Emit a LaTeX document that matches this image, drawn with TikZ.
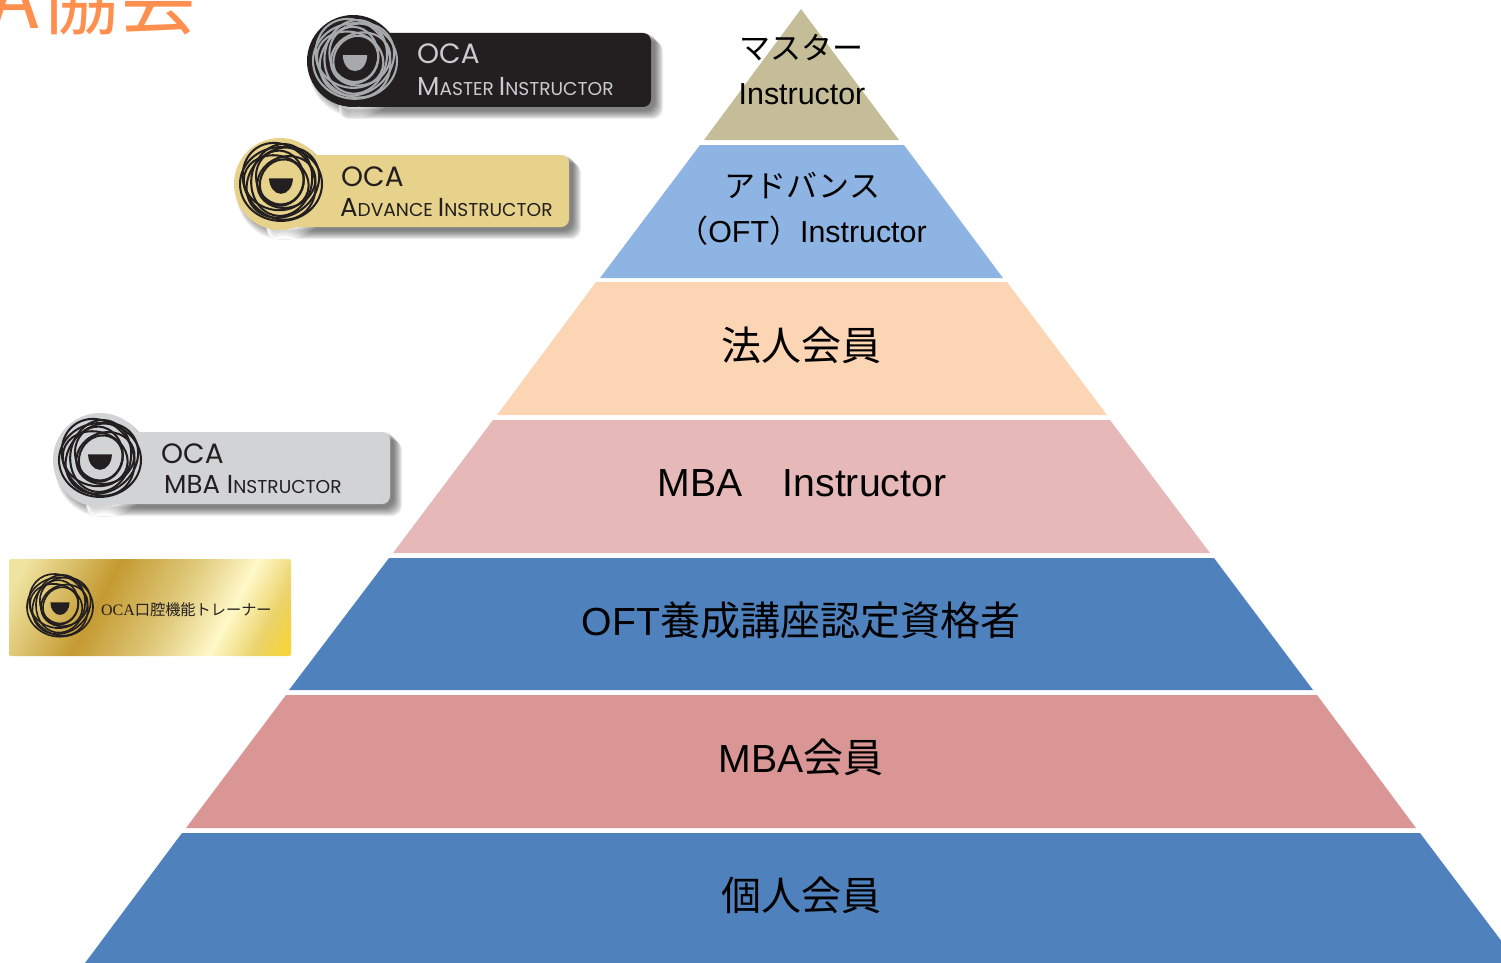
\documentclass[tikz,border=0pt]{standalone}
\usepackage{fontspec}
\setmainfont{Noto Sans CJK JP}
\newfontfamily\badgefont{Poppins}
\newfontfamily\lat[Scale=.98]{Liberation Sans}
\newfontfamily\goldlat[Scale=1.05]{Liberation Serif}
\definecolor{tierTan}{HTML}{C4BD97}
\definecolor{tierSky}{HTML}{8EB4E3}
\definecolor{tierPeach}{HTML}{FCD5B5}
\definecolor{tierPink}{HTML}{E6B9B8}
\definecolor{tierBlue}{HTML}{4F81BD}
\definecolor{tierRose}{HTML}{D99694}
\definecolor{titleOrange}{HTML}{FF8F4F}
\definecolor{badgeBlack}{HTML}{231F20}
\definecolor{badgeCream}{HTML}{E6D28B}
\definecolor{badgeGray}{HTML}{D1D3D4}
\definecolor{ringGray}{HTML}{A7A9AC}
\definecolor{goldA}{HTML}{EFE3A0}
\definecolor{goldC}{HTML}{C49A32}
\definecolor{goldD}{HTML}{E0CA7C}
\definecolor{goldE}{HTML}{FFF8C8}
\definecolor{goldF}{HTML}{EBD36A}
\definecolor{goldG}{HTML}{F5D43C}
\pgfdeclarehorizontalshading{goldfoil}{100bp}{
	color(0bp)=(goldA);
	color(20bp)=(goldA);
	color(39bp)=(goldC);
	color(55bp)=(goldD);
	color(67bp)=(goldE);
	color(76bp)=(goldF);
	color(82bp)=(goldG);
	color(100bp)=(goldG)}
\tikzset{
	tiertext/.style={font=\fontsize{40}{48}\selectfont, text=black, inner sep=0pt},
	smalltier/.style={font=\fontsize{31}{37}\selectfont, text=black, inner sep=0pt},
	oca/.style={font=\badgefont\fontsize{28}{34}\selectfont, anchor=west, inner sep=0pt},
	rank/.style={font=\badgefont\fontsize{18.6}{24}\selectfont, anchor=west, inner sep=0pt}
}
% x, y, radius, ring colour, moon colour
\newcommand{\ocalogo}[5]{
	\begin{scope}[shift={(#1,#2)}]
		\foreach \a/\d/\p/\q in {0/.00/1.00/.90, 40/.06/.94/.80, 80/.10/.88/.74, 125/.08/.98/.84, 165/.12/.80/.66, 20/.14/.72/.62, 100/.16/.66/.58, 60/.04/.58/.52}
			\draw[#4, line width=#3*.05pt, rotate=\a] (#3*\d,0) ellipse [x radius=#3*\p, y radius=#3*\q];
		\fill[#5] (-#3*.29,-#3*.14) -- (#3*.29,-#3*.14) arc[start angle=0, end angle=-180, x radius=#3*.29, y radius=-#3*.38] -- cycle;
	\end{scope}
}
% disc x, disc y, disc radius, body top, body bottom, body right, colour
\newcommand{\ocabadge}[7]{
	\foreach \s in {0,1,...,8}
		\fill[black, opacity=.07, rounded corners=10pt] (#1-#3*.3,#4+8-\s) rectangle (#6+12-\s,#5+12-\s)
			(#1+4,#2+8-\s) circle (#3+2-\s*.5);
	\fill[#7, rounded corners=8pt] (#1,#4) rectangle (#6,#5);
	\fill[#7] (#1,#2) circle (#3);
}
\begin{document}
\begin{tikzpicture}[x=1pt, y=-1pt, line join=round]
	\useasboundingbox (0,0) rectangle (1501,963);
	\node[font=\fontsize{80}{88}\selectfont, text=titleOrange, anchor=base east, inner sep=0pt] (title) at (199,29) {A協会};
	% pyramid
	\begin{scope}
		\clip (0,0) rectangle (1501,963);
		\fill[tierTan] (801,9)--(899,140)--(704,140)--cycle;
		\foreach \c/\ya/\yb/\xa/\xb/\xc/\xd in {
			tierSky/145/278/700/904/1003/600,
			tierPeach/282/415/596/1007/1107/497,
			tierPink/420/553/493/1110/1210/393,
			tierBlue/558/690/389/1214/1313/289,
			tierRose/695/828/286/1317/1416/186,
			tierBlue/833/963/182/1420/1518/85}
			\fill[\c] (\xa,\ya)--(\xb,\ya)--(\xc,\yb)--(\xd,\yb)--cycle;
	\end{scope}
	\node[smalltier] (masterA) at (801,48) {マスター};
	\node[smalltier] (masterB) at (802,94) {\lat Instructor};
	\node[smalltier] (advanceA) at (802,185) {アドバンス};
	\node[smalltier] (advanceB) at (802,231) {（{\lat OFT}）{\lat Instructor}};
	\node[tiertext] (corporate) at (801,345) {法人会員};
	\node[tiertext] (mbaInstr) at (802,483) {{\lat MBA}　{\lat Instructor}};
	\node[tiertext] (oft) at (801,620) {{\lat OFT}養成講座認定資格者};
	\node[tiertext] (mba) at (801,757) {{\lat MBA}会員};
	\node[tiertext] (person) at (801,895) {個人会員};
	% badges
	\ocabadge{353}{61}{46}{33}{107}{651}{badgeBlack}
	\ocalogo{355}{61}{42}{ringGray}{ringGray}
	\node[oca, text=ringGray!60!white] (masterOca) at (417,54) {OCA};
	\node[rank, text=ringGray!60!white] (masterRank) at (417,87) {{\fontsize{26}{30}\selectfont M}ASTER {\fontsize{26}{30}\selectfont I}NSTRUCTOR};
	\ocabadge{280}{184}{46}{155}{227}{569}{badgeCream}
	\ocalogo{281}{184}{41}{badgeBlack}{badgeBlack}
	\node[oca, text=badgeBlack] (advanceOca) at (341,177) {OCA};
	\node[rank, text=badgeBlack] (advanceRank) at (340,208) {{\fontsize{26}{30}\selectfont A}DVANCE {\fontsize{26}{30}\selectfont I}NSTRUCTOR};
	\ocabadge{100}{460}{47}{432}{504}{390}{badgeGray}
	\ocalogo{100}{460}{41}{badgeBlack}{badgeBlack}
	\node[oca, text=badgeBlack] (mbaOca) at (161,454) {OCA};
	\node[rank, text=badgeBlack] (mbaRank) at (164,484) {{\fontsize{26}{30}\selectfont MBA I}NSTRUCTOR};
	\shade[shading=goldfoil, shading angle=-28, rounded corners=2pt] (9,559) rectangle (291,656);
	\ocalogo{60}{607}{33}{badgeBlack}{badgeBlack}
	\node[font=\fontsize{15.2}{18}\selectfont, text=badgeBlack, anchor=west, inner sep=0pt] (goldRank) at (101,610) {{\goldlat OCA}口腔機能トレーナー};
\end{tikzpicture}
\end{document}
